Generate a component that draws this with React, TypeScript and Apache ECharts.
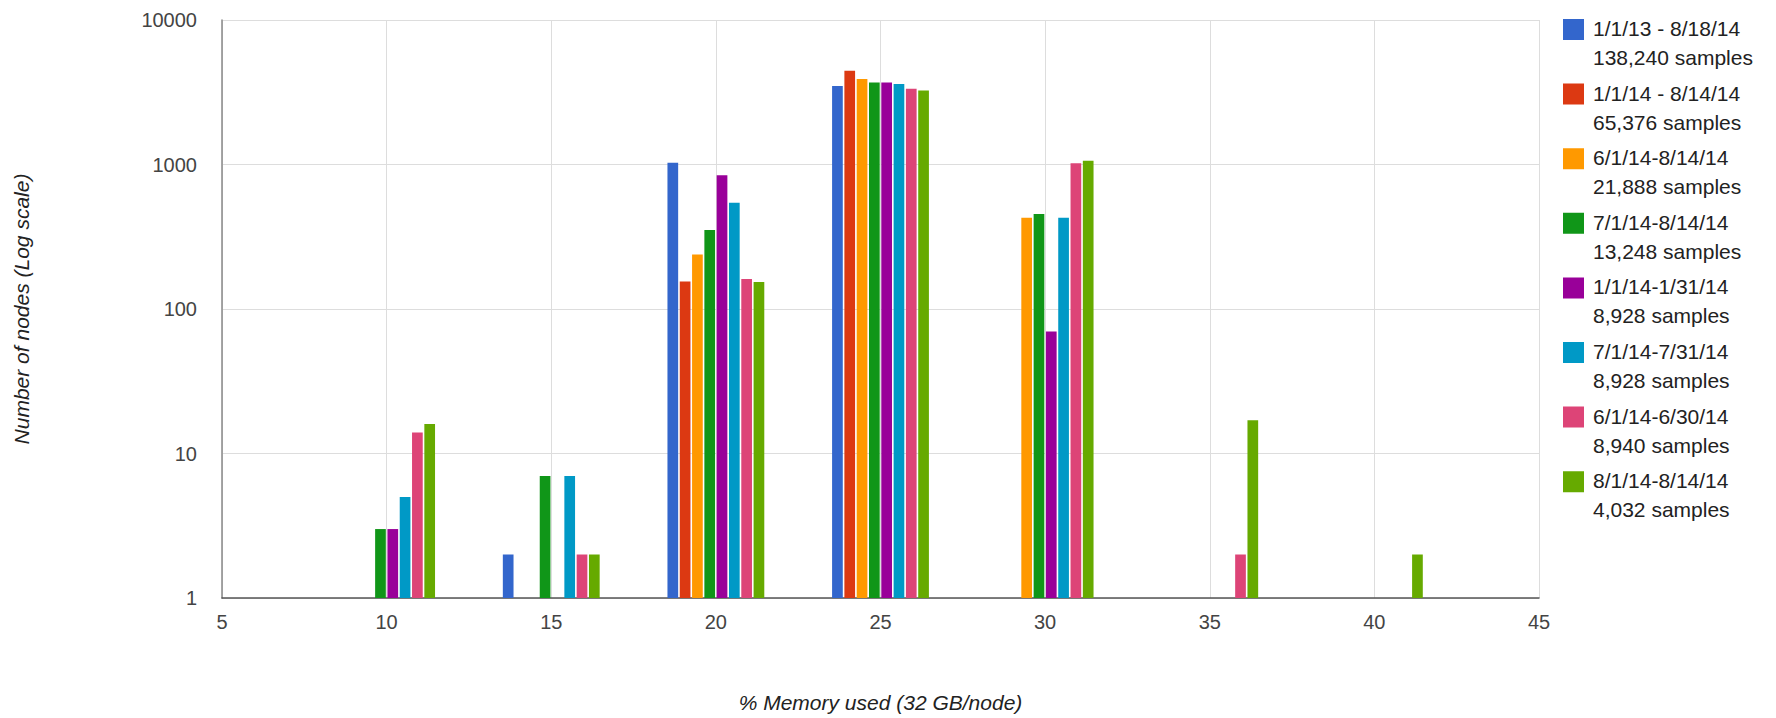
import React, { useEffect, useRef } from "react";
import * as echarts from "echarts";

// Memory-used bins (x axis, %)
const memoryBins = [10, 15, 20, 25, 30, 35, 40];

const seriesNames = [
  "1/1/13 - 8/18/14",
  "1/1/14 - 8/14/14",
  "6/1/14-8/14/14",
  "7/1/14-8/14/14",
  "1/1/14-1/31/14",
  "7/1/14-7/31/14",
  "6/1/14-6/30/14",
  "8/1/14-8/14/14",
];

const sampleCounts = ["138,240", "65,376", "21,888", "13,248", "8,928", "8,928", "8,940", "4,032"];

const colors = ["#3366cc", "#dc3912", "#ff9900", "#109618", "#990099", "#0099c6", "#dd4477", "#66aa00"];

// Number of nodes per bin (null = no bar)
const nodes2013to0818 = [null, 2, 1030, 3500, null, null, null];
const nodes2014to0814 = [null, null, 155, 4450, null, null, null];
const nodesJunToAug = [null, null, 238, 3900, 428, null, null];
const nodesJulToAug = [3, 7, 352, 3700, 454, null, null];
const nodesJan = [3, null, 842, 3700, 70, null, null];
const nodesJul = [5, 7, 544, 3600, 428, null, null];
const nodesJun = [14, 2, 161, 3350, 1019, 2, null];
const nodesAug = [16, 2, 154, 3250, 1063, 17, 2];

const seriesValues = [
  nodes2013to0818,
  nodes2014to0814,
  nodesJunToAug,
  nodesJulToAug,
  nodesJan,
  nodesJul,
  nodesJun,
  nodesAug,
];

const yTicks = [1, 10, 100, 1000, 10000];

const FONT = "'Liberation Sans', Arial, Helvetica, sans-serif";

export default function App() {
  const ref = useRef<HTMLDivElement>(null);

  useEffect(() => {
    if (!ref.current) return;
    const chart = echarts.init(ref.current, undefined, { renderer: "svg" });

    const series = seriesNames.map((name, si) => ({
      type: "bar",
      name,
      barWidth: 10.7,
      barGap: "15%",
      itemStyle: { color: colors[si] },
      data: memoryBins
        .map((x, i) => (seriesValues[si][i] == null ? null : [x, seriesValues[si][i]]))
        .filter((d) => d !== null),
    }));

    const legendIcon =
      "path://M0,0h0.01v0.01h-0.01z M0,5h21v21h-21z M24.99,57.99h0.01v0.01h-0.01z";

    chart.setOption({
      animation: false,
      backgroundColor: "#ffffff",
      textStyle: { fontFamily: FONT },
      grid: {
        left: 222,
        right: 237,
        top: 20,
        bottom: 120,
        containLabel: false,
        outerBoundsMode: "none",
      },
      legend: {
        orient: "vertical",
        left: 1563,
        top: 14,
        padding: 0,
        itemWidth: 25,
        itemHeight: 58,
        itemGap: 6.6,
        icon: legendIcon,
        selectedMode: false,
        data: seriesNames,
        formatter: (name: string) => {
          const i = seriesNames.indexOf(name);
          return `${name}\n${sampleCounts[i]} samples`;
        },
        textStyle: {
          fontFamily: FONT,
          fontSize: 21,
          lineHeight: 29,
          color: "#222222",
        },
      },
      xAxis: {
        type: "value",
        min: 5,
        max: 45,
        interval: 5,
        name: "% Memory used (32 GB/node)",
        nameLocation: "middle",
        nameGap: 94,
        nameTextStyle: {
          fontFamily: FONT,
          fontSize: 21,
          fontStyle: "italic",
          color: "#222222",
        },
        axisLine: { show: true, onZero: false, lineStyle: { color: "#555555", width: 1.5 } },
        axisTick: { show: false },
        axisLabel: {
          margin: 14,
          fontSize: 20,
          color: "#444444",
          fontFamily: FONT,
        },
        splitLine: { show: true, lineStyle: { color: "#dddddd", width: 1 } },
      },
      yAxis: {
        type: "log",
        logBase: 10,
        min: yTicks[0],
        max: yTicks[yTicks.length - 1],
        name: "Number of nodes (Log scale)",
        nameLocation: "middle",
        nameGap: 190,
        nameTextStyle: {
          fontFamily: FONT,
          fontSize: 21,
          fontStyle: "italic",
          color: "#222222",
        },
        axisLine: { show: true, lineStyle: { color: "#888888", width: 1.5 } },
        axisTick: { show: false },
        axisLabel: {
          margin: 25,
          fontSize: 20,
          color: "#444444",
          fontFamily: FONT,
          formatter: (v: number) => String(Math.round(v)),
        },
        splitLine: { show: true, lineStyle: { color: "#dddddd", width: 1 } },
      },
      series,
    });

    return () => chart.dispose();
  }, []);

  return (
    <div
      ref={ref}
      style={{ position: "fixed", left: 0, top: 0, width: 1776, height: 718 }}
    />
  );
}
